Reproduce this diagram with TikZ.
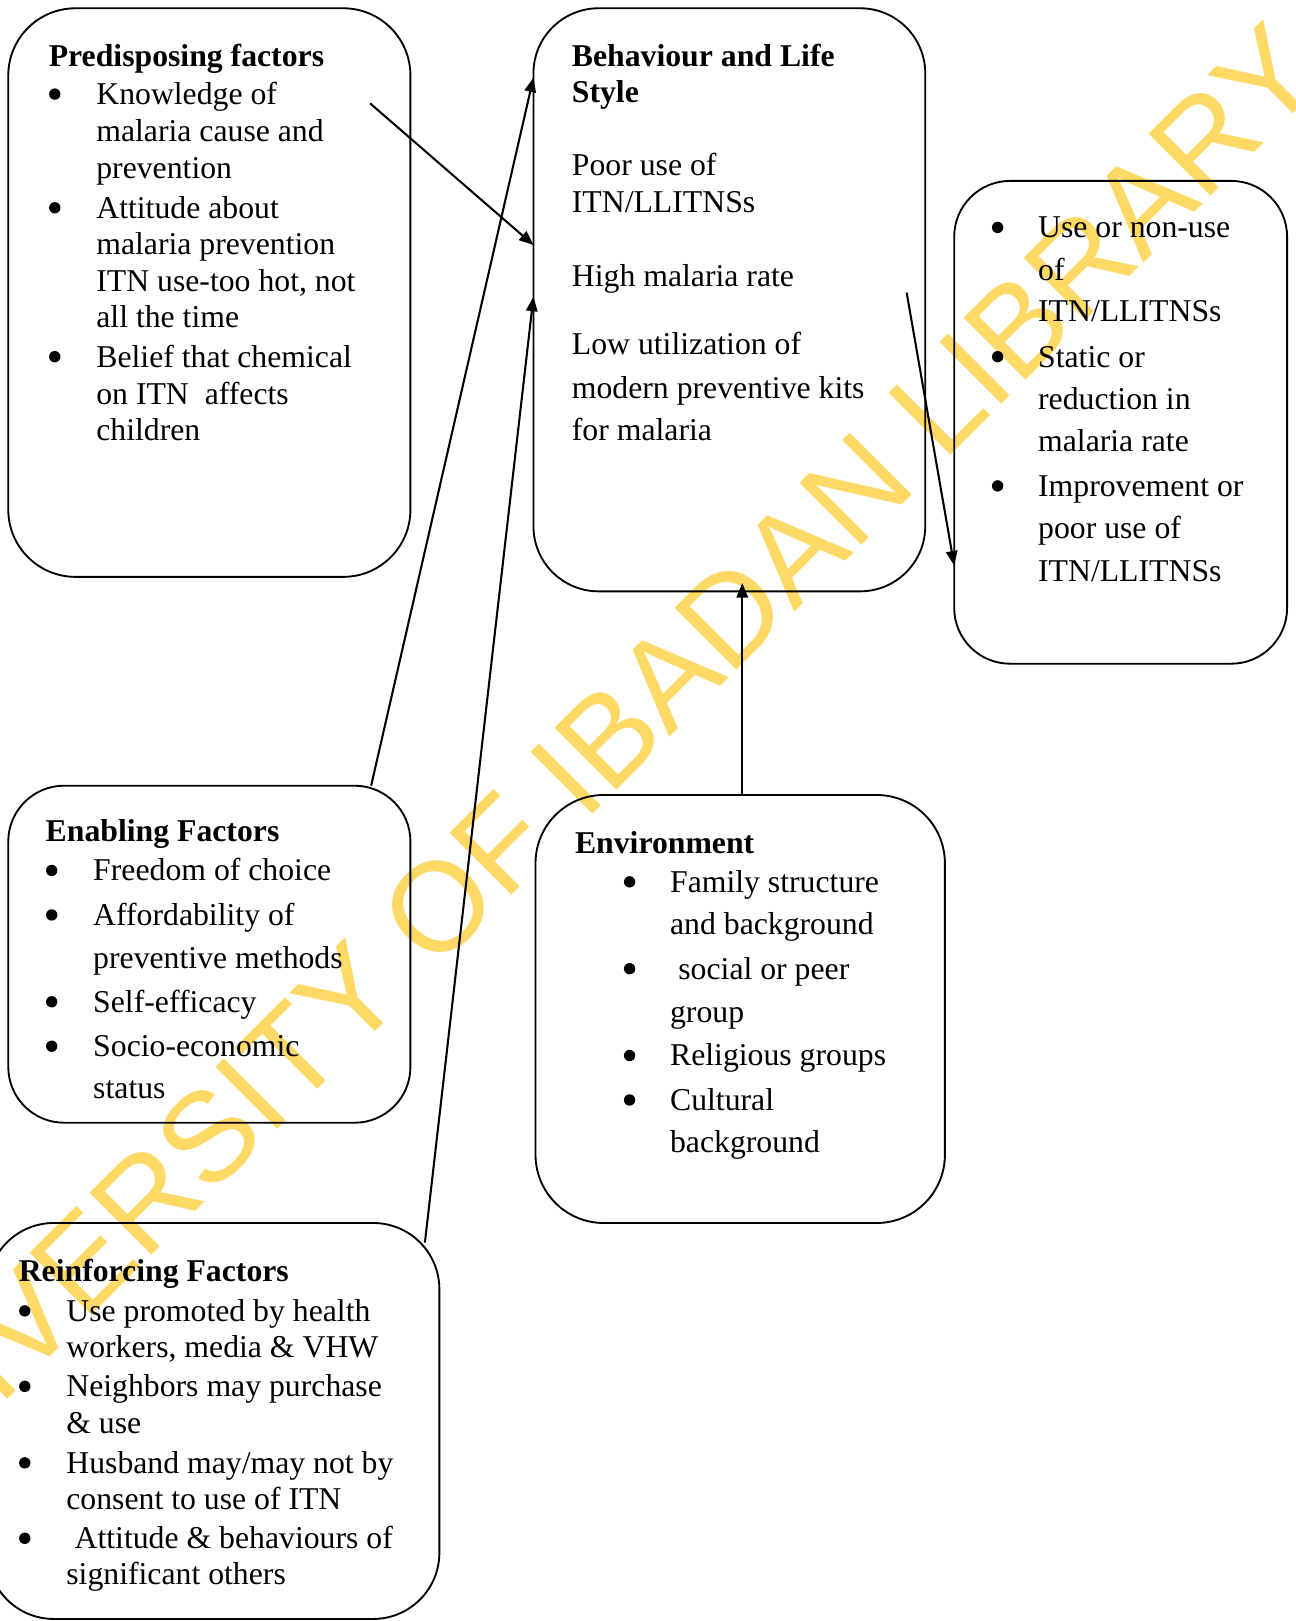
\documentclass[tikz,border=0pt]{standalone}
\usepackage{fontspec}
\setmainfont{Liberation Serif}
\newfontfamily\wmfont{Liberation Sans}
\usetikzlibrary{arrows.meta}
\definecolor{wm}{RGB}{255,217,102}
\newcommand{\tx}[4]{\node[txt] (#1) at (#2,#3) {#4};}
\newcommand{\tb}[4]{\node[ttl] (#1) at (#2,#3) {#4};}
\newcommand{\bul}[2]{\fill (#1,#2) circle[radius=5.5pt];}
\begin{document}
\begin{tikzpicture}[x=1pt,y=-1pt,
  box/.style={draw,line width=1.8pt,rectangle,inner sep=0pt},
  txt/.style={anchor=base west,inner sep=0pt,font=\fontsize{30.7}{36}\selectfont},
  ttl/.style={anchor=base west,inner sep=0pt,font=\fontsize{30.7}{36}\selectfont\bfseries},
  arr/.style={line width=2pt,-{Triangle[length=14pt,width=11pt]}}]
\useasboundingbox (0,0) rectangle (1253,1568);
\fill[white] (0,0) rectangle (1253,1568);
% watermark
\node[rotate=45,inner sep=0pt,text=wm,font=\wmfont\fontsize{123}{123}\selectfont] (wmark) at (549,752) {UNIVERSITY OF IBADAN LIBRARY};
% boxes
\node[box,minimum width=389pt,minimum height=550pt,rounded corners=65pt] (pre) at (202.5,283) {};
\node[box,minimum width=379pt,minimum height=564pt,rounded corners=63pt] (beh) at (705.5,290) {};
\node[box,minimum width=322pt,minimum height=467pt,rounded corners=54pt] (out) at (1084,408.5) {};
\node[box,minimum width=389pt,minimum height=326pt,rounded corners=54pt] (ena) at (202.5,923) {};
\node[box,minimum width=396pt,minimum height=414pt,rounded corners=66pt] (env) at (716,976) {};
\node[box,minimum width=437pt,minimum height=383pt,rounded corners=64pt] (rei) at (206.5,1374.5) {};
% Predisposing
\tb{p0}{47}{64}{Predisposing factors}
\bul{53}{91}\tx{p1}{93}{101}{Knowledge of}
\tx{p2}{93}{137}{malaria cause and}
\tx{p3}{93}{173}{prevention}
\bul{53}{201}\tx{p4}{93}{211}{Attitude about}
\tx{p5}{93}{246}{malaria prevention}
\tx{p6}{93}{282}{ITN use-too hot, not}
\tx{p7}{93}{317}{all the time}
\bul{53}{345}\tx{p8}{93}{355}{Belief that chemical}
\tx{p9}{93}{391}{on ITN\ \ affects}
\tx{p10}{93}{426}{children}
% Behaviour
\tb{b0}{553}{64}{Behaviour and Life}
\tb{b1}{553}{99}{Style}
\tx{b2}{553}{170}{Poor use of}
\tx{b3}{553}{206}{ITN/LLITNSs}
\tx{b4}{553}{277}{High malaria rate}
\tx{b5}{553}{343}{Low utilization of}
\tx{b6}{553}{385}{modern preventive kits}
\tx{b7}{553}{426}{for malaria}
% Outcome
\bul{965}{220}\tx{o1}{1004}{230}{Use or non-use}
\tx{o2}{1004}{271}{of}
\tx{o3}{1004}{311}{ITN/LLITNSs}
\bul{965}{345}\tx{o4}{1004}{355}{Static or}
\tx{o5}{1004}{396}{reduction in}
\tx{o6}{1004}{437}{malaria rate}
\bul{965}{470}\tx{o7}{1004}{480}{Improvement or}
\tx{o8}{1004}{521}{poor use of}
\tx{o9}{1004}{562}{ITN/LLITNSs}
% Enabling
\tb{e0}{44}{814}{Enabling Factors}
\bul{50}{842}\tx{e1}{90}{852}{Freedom of choice}
\bul{50}{885}\tx{e2}{90}{895}{Affordability of}
\tx{e3}{90}{937}{preventive methods}
\bul{50}{969}\tx{e4}{90}{979}{Self-efficacy}
\bul{50}{1012}\tx{e5}{90}{1022}{Socio-economic}
\tx{e6}{90}{1063}{status}
% Environment
\tb{v0}{556}{826}{Environment}
\bul{609}{853}\tx{v1}{648}{863}{Family structure}
\tx{v2}{648}{904}{and background}
\bul{609}{937}\tx{v3}{656}{947}{social or peer}
\tx{v4}{648}{989}{group}
\bul{609}{1021}\tx{v5}{648}{1031}{Religious groups}
\bul{609}{1064}\tx{v6}{648}{1074}{Cultural}
\tx{v7}{648}{1115}{background}
% Reinforcing
\tb{r0}{18}{1240}{Reinforcing Factors}
\bul{24}{1268}\tx{r1}{64}{1278}{Use promoted by health}
\tx{r2}{64}{1313}{workers, media \& VHW}
\bul{24}{1341}\tx{r3}{64}{1351}{Neighbors may purchase}
\tx{r4}{64}{1387}{\& use}
\bul{24}{1415}\tx{r5}{64}{1425}{Husband may/may not by}
\tx{r6}{64}{1460}{consent to use of ITN}
\bul{24}{1488}\tx{r7}{72}{1498}{Attitude \& behaviours of}
\tx{r8}{64}{1533}{significant others}
% connector ends
\coordinate (a1s) at (358,100);
\coordinate (a1e) at (516,237);
\coordinate (a2s) at (359,760);
\coordinate (a2e) at (516,75);
\coordinate (a3s) at (411,1202);
\coordinate (a3e) at (516,287);
\coordinate (a4s) at (718,769);
\coordinate (a4e) at (718,564);
\coordinate (a5s) at (877,283);
\coordinate (a5e) at (923,547);
\draw[arr] (a1s) -- (a1e);
\draw[arr] (a2s) -- (a2e);
\draw[arr] (a3s) -- (a3e);
\draw[arr] (a4s) -- (a4e);
\draw[arr] (a5s) -- (a5e);
\end{tikzpicture}
\end{document}
